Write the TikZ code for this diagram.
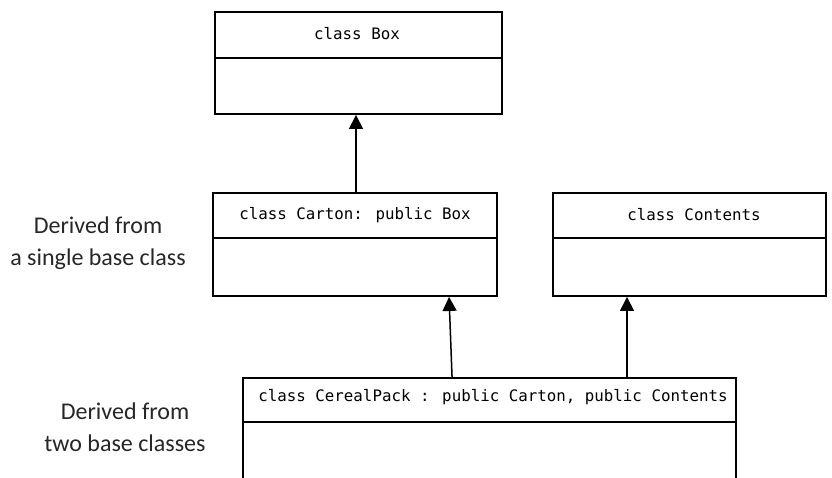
\documentclass[tikz,border=0pt]{standalone}
\usepackage{fontspec}
\setmainfont{Carlito}
\newfontfamily\codefont{DejaVu Sans Mono}
\usetikzlibrary{arrows.meta,calc}

\tikzset{
  classbox/.style={draw=black, line width=1.9pt, fill=white, inner sep=0pt},
  classtitle/.style={font=\codefont\fontsize{15.8}{18}\selectfont, text=black, inner sep=0pt},
  divider/.style={line width=1.7pt},
  inherits/.style={line width=1.5pt, -{Triangle[width=14pt,length=14pt]}},
  note/.style={font=\fontsize{24}{32}\selectfont, text=black!85, align=center, inner sep=0pt}
}

\begin{document}
\begin{tikzpicture}[x=1pt,y=-1pt]
  \useasboundingbox (0,0) rectangle (832,478);
  \clip (0,0) rectangle (832,478);

  % base class at the top
  \node[classbox, minimum width=287pt, minimum height=102pt] (box) at (358.5,63) {};
  \draw[divider] (box.west |- 0,58) -- (box.east |- 0,58);
  \node[classtitle] (boxt) at (357,34) {class Box};

  % second row: Carton and Contents
  \node[classbox, minimum width=284pt, minimum height=103pt] (carton) at (355,244.5) {};
  \draw[divider] (carton.west |- 0,238) -- (carton.east |- 0,238);
  \node[classtitle] (cartont) at (355,215) {class Carton: public Box};

  \node[classbox, minimum width=273pt, minimum height=103pt] (contents) at (689.5,244.5) {};
  \draw[divider] (contents.west |- 0,238) -- (contents.east |- 0,238);
  \node[classtitle] (contentst) at (694,215) {class Contents};

  % class derived from both, running past the lower edge
  \node[classbox, minimum width=493pt, minimum height=142pt] (cereal) at (489.5,449) {};
  \draw[divider] (cereal.west |- 0,422) -- (cereal.east |- 0,422);
  \node[classtitle] (cerealt) at (493,397) {class CerealPack : public Carton, public Contents};

  % inheritance arrows
  \draw[inherits] (carton.north -| 356,0) -- (box.south -| 356,0);
  \draw[inherits] ($(cereal.north west)+(210,0)$) -- ($(carton.south west)+(237,0)$);
  \draw[inherits] (cereal.north -| 627,0) -- (contents.south -| 627,0);

  % side notes
  \node[note] (single) at (98,243) {Derived from\\a single base class};
  \node[note] (multi) at (125,427) {Derived from\\two base classes};
\end{tikzpicture}
\end{document}
